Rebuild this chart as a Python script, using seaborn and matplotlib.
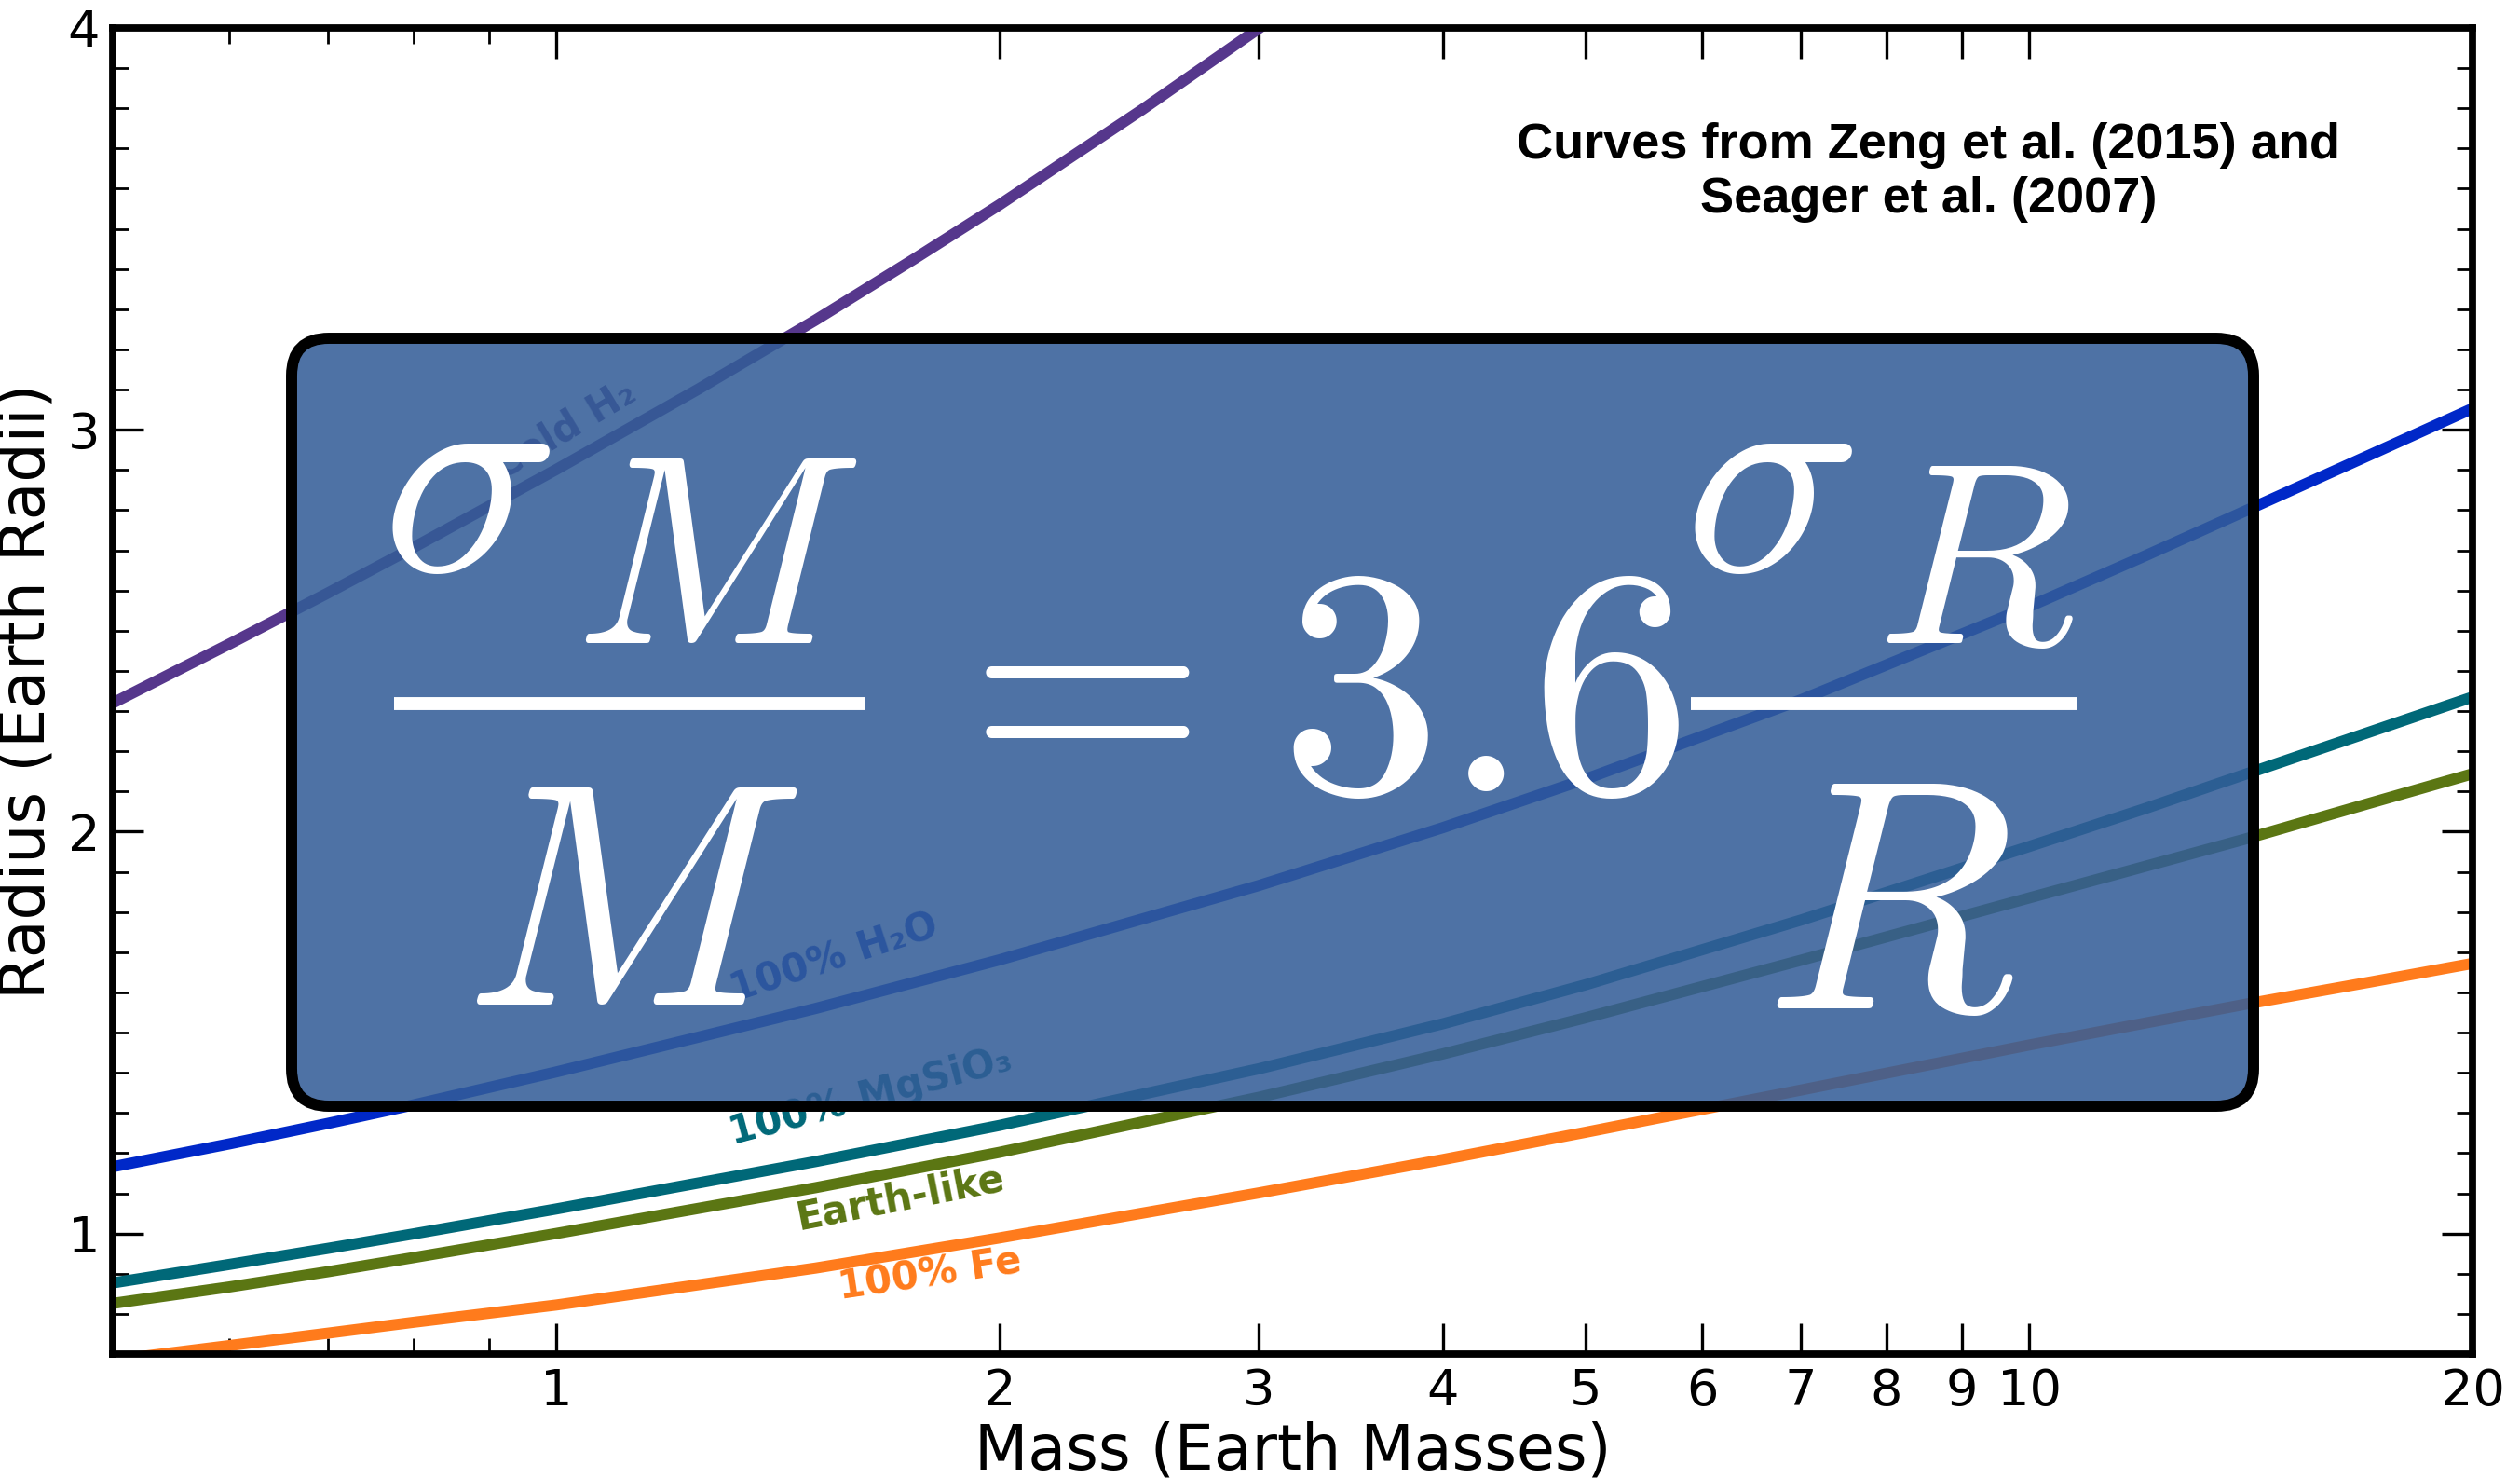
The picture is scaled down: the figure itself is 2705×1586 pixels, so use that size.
import matplotlib
matplotlib.use("Agg")
import matplotlib.pyplot as plt
import numpy as np
import pandas as pd
import seaborn as sns
from matplotlib.patches import FancyBboxPatch
from matplotlib.lines import Line2D
from matplotlib.ticker import FixedLocator, NullFormatter, MultipleLocator, FixedFormatter

# mass-radius curves (Earth masses / Earth radii)
mass_h2 = [0.5, 0.6, 0.7, 0.8, 1.0, 1.25, 1.5, 1.75, 2.0, 2.5, 3.0, 3.5]
radius_h2 = [2.32, 2.467, 2.594, 2.707, 2.901, 3.102, 3.273, 3.425, 3.56, 3.797, 3.999, 4.173]

mass_grid = [0.5, 0.6, 0.7, 0.8, 1.0, 1.5, 2.0, 3.0, 4.0, 5.0, 7.0, 10.0, 12.0, 14.0, 17.0, 20.0]
radius_h2o = [1.166, 1.223, 1.274, 1.320, 1.402, 1.560, 1.681, 1.866, 2.010, 2.131, 2.328, 2.560, 2.687, 2.797, 2.936, 3.053]
radius_mgsio3 = [0.877, 0.923, 0.963, 0.999, 1.061, 1.179, 1.269, 1.410, 1.522, 1.619, 1.780, 1.963, 2.058, 2.142, 2.247, 2.335]
radius_earth = [0.826, 0.867, 0.905, 0.940, 1.000, 1.114, 1.202, 1.339, 1.447, 1.537, 1.680, 1.835, 1.914, 1.981, 2.070, 2.144]
radius_fe = [0.685, 0.721, 0.752, 0.779, 0.822, 0.914, 0.989, 1.101, 1.184, 1.252, 1.357, 1.469, 1.524, 1.570, 1.625, 1.672]

models = ["Cold H₂", "100% H₂O", "100% MgSiO₃", "Earth-like", "100% Fe"]
colors = ["#56378c", "#0028c8", "#006878", "#5b7613", "#ff7b1c"]

# label placement (mass, radius, angle)
label_mass = [1.013, 1.544, 1.636, 1.713, 1.794]
label_radius = [3.00, 1.684, 1.341, 1.088, 0.898]
label_angle = [31, 18, 15, 11, 8.5]

x_ticks = [1, 2, 3, 4, 5, 6, 7, 8, 9, 10, 20]
x_minor = [0.6, 0.7, 0.8, 0.9]
y_ticks = [1, 2, 3, 4]

note = "Curves from Zeng et al. (2015) and\nSeager et al. (2007)"

frames = [pd.DataFrame({"mass": mass_h2, "radius": radius_h2, "model": models[0]})]
for name, r in zip(models[1:], [radius_h2o, radius_mgsio3, radius_earth, radius_fe]):
    frames.append(pd.DataFrame({"mass": mass_grid, "radius": r, "model": name}))
df = pd.concat(frames, ignore_index=True)

sns.set_theme(style="white")
plt.rcParams["font.family"] = ["DejaVu Sans"]
plt.rcParams["mathtext.fontset"] = "dejavusans"
plt.rcParams["text.color"] = "black"
plt.rcParams["axes.labelcolor"] = "black"
plt.rcParams["xtick.color"] = "black"
plt.rcParams["ytick.color"] = "black"

W, H, DPI = 2705, 1586, 200
fig = plt.figure(figsize=(W / DPI, H / DPI), dpi=DPI)
ax = fig.add_axes([121 / W, 1 - 1453 / H, (2654 - 121) / W, (1453 - 30) / H])

sns.lineplot(data=df, x="mass", y="radius", hue="model", palette=dict(zip(models, colors)),
             linewidth=4.3, legend=False, estimator=None, ax=ax)

ax.set_xscale("log")
ax.set_xlim(0.5, 20)
ax.set_ylim(0.7, 4)

ax.xaxis.set_major_locator(FixedLocator(x_ticks))
ax.xaxis.set_major_formatter(FixedFormatter([str(t) for t in x_ticks]))
ax.xaxis.set_minor_locator(FixedLocator(x_minor))
ax.xaxis.set_minor_formatter(NullFormatter())
ax.yaxis.set_major_locator(FixedLocator(y_ticks))
ax.yaxis.set_minor_locator(MultipleLocator(0.1))

ax.tick_params(which="both", direction="in", top=True, right=True, bottom=True, left=True,
               colors="black", labelcolor="black")
ax.tick_params(which="major", length=12, width=1.2, labelsize=19.5, pad=5)
ax.tick_params(which="minor", length=6, width=1.0)
for s in ax.spines.values():
    s.set_linewidth(2.8)
    s.set_color("black")

ax.set_xlabel("Mass (Earth Masses)", fontsize=24, labelpad=2, color="black")
ax.set_ylabel("Radius (Earth Radii)", fontsize=24, labelpad=4, color="black")

for name, c, m, r, a in zip(models, colors, label_mass, label_radius, label_angle):
    ax.text(m, r, name, color=c, fontsize=15, fontweight="bold", rotation=a,
            rotation_mode="anchor", ha="center", va="center")

fig.text(2070 / W, 1 - 185 / H, note, ha="center", va="center", multialignment="center",
         family=["Liberation Sans", "DejaVu Sans"], fontweight="bold", fontsize=19.5, color="black")

# rounded overlay box (inches)
bx0, bx1 = 313 / DPI, 2419 / DPI
by0, by1 = (H - 1187) / DPI, (H - 363) / DPI
shadow = FancyBboxPatch((bx0 + 0.01, by0 - 0.03), bx1 - bx0, by1 - by0,
                        boxstyle="round,pad=0,rounding_size=0.2",
                        transform=fig.dpi_scale_trans, fc=(0, 0, 0, 0.12), ec="none", zorder=4)
fig.add_artist(shadow)
box = FancyBboxPatch((bx0, by0), bx1 - bx0, by1 - by0,
                     boxstyle="round,pad=0,rounding_size=0.2",
                     transform=fig.dpi_scale_trans,
                     fc=matplotlib.colors.to_rgba("#345f9b", 0.85), ec="black", lw=4.3, zorder=5)
fig.add_artist(box)


def eq(x, y, s, size):
    fig.text(x / W, 1 - y / H, s, ha="center", va="baseline", fontsize=size,
             color="white", math_fontfamily="cm", zorder=6)


eq(500, 612, r"$\sigma$", 114)
eq(768, 690, r"$M$", 104)
eq(677, 1078, r"$M$", 123)
eq(1130, 834, r"$=$", 118)
eq(1588, 849, r"$3.6$", 125)
eq(1898, 612, r"$\sigma$", 114)
eq(2120, 690, r"$R$", 100)
eq(2027, 1082, r"$R$", 127)

for xa, xb in [(423, 928), (1815, 2230)]:
    fig.add_artist(Line2D([xa / W, xb / W], [1 - 755 / H, 1 - 755 / H], color="white",
                          lw=5, solid_capstyle="butt", transform=fig.transFigure, zorder=6))

fig.savefig("out.png", dpi=DPI)
